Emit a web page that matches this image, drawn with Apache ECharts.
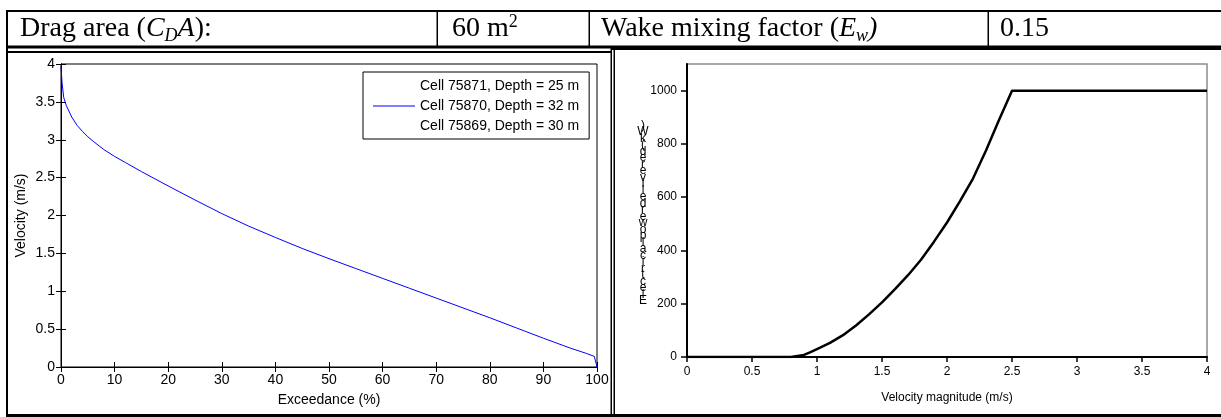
<!DOCTYPE html>
<html><head><meta charset="utf-8">
<script src="https://cdn.jsdelivr.net/npm/echarts@6/dist/echarts.min.js"></script>
<style>html,body{margin:0;padding:0;background:#fff;overflow:hidden}#c{width:1221px;height:417px}</style>
</head><body><div id="c"></div>
<script>
// ---- data ----
const exceedance = [0, 0.2, 0.5, 1, 2, 3, 4, 5, 6, 8, 10, 12, 15, 20, 25, 30, 35, 40, 45, 50, 55, 60, 65, 70, 75, 80, 85, 90, 95, 98, 99.5, 99.8, 100];
const velocity   = [3.97, 3.75, 3.56, 3.45, 3.3, 3.19, 3.11, 3.04, 2.98, 2.87, 2.78, 2.70, 2.58, 2.39, 2.205, 2.025, 1.86, 1.71, 1.565, 1.43, 1.30, 1.17, 1.04, 0.91, 0.78, 0.65, 0.515, 0.38, 0.25, 0.18, 0.14, 0.12, 0];
const speedMag   = [0, 0.8, 0.9, 0.95, 1.0, 1.1, 1.2, 1.3, 1.4, 1.5, 1.6, 1.7, 1.8, 1.9, 2.0, 2.1, 2.2, 2.3, 2.4, 2.5, 4.0];
const powerKW    = [0, 0, 8, 18, 30, 53, 82, 118, 160, 205, 255, 307, 365, 433, 505, 585, 670, 775, 890, 1000, 1000];
const legendNames = ['Cell 75871, Depth = 25 m', 'Cell 75870, Depth = 32 m', 'Cell 75869, Depth = 30 m'];
const exceedTicks = [0, 10, 20, 30, 40, 50, 60, 70, 80, 90, 100];
const velTicks    = [0, 0.5, 1, 1.5, 2, 2.5, 3, 3.5, 4];
const magTicks    = [0, 0.5, 1, 1.5, 2, 2.5, 3, 3.5, 4];
const powerTicks  = [0, 200, 400, 600, 800, 1000];
const powerTitle  = 'Electrical power delivered (kW)';

const SANS = "'Liberation Sans', Arial, sans-serif";
const SERIF = "'Liberation Serif', 'Times New Roman', serif";

const chart = echarts.init(document.getElementById('c'), null, {renderer: 'canvas'});

function matAxis(extra) {
  return Object.assign({
    type: 'value', gridIndex: 0,
    axisLine: {show: true, lineStyle: {color: '#000', width: 1}},
    axisTick: {show: true, inside: true, length: 5, lineStyle: {color: '#000', width: 1}},
    splitLine: {show: false},
    axisLabel: {color: '#000', fontSize: 14, fontFamily: SANS, margin: 6},
    nameTextStyle: {color: '#000', fontSize: 14, fontFamily: SANS}
  }, extra);
}

const pair = (xs, ys) => xs.map((x, i) => [x, ys[i]]);
const plain = v => String(v);

function rect(x, y, w, h, fill) {
  return {type: 'rect', silent: true, z: 100, shape: {x, y, width: w, height: h}, style: {fill: fill || '#000'}};
}

const richMain = {fontFamily: SERIF, fontSize: 28, lineHeight: 32, color: '#000'};
const rich = {
  n: richMain,
  i: Object.assign({}, richMain, {fontStyle: 'italic'}),
  s: {fontFamily: SERIF, fontSize: 18, lineHeight: 14, fontStyle: 'italic', verticalAlign: 'bottom', color: '#000'},
  p: {fontFamily: SERIF, fontSize: 18, lineHeight: 14, verticalAlign: 'top', color: '#000'}
};
function headText(x, txt) {
  return {type: 'text', silent: true, z: 100, x, y: 29,
    style: {text: txt, rich, verticalAlign: 'middle', align: 'left'}};
}

const stacked = powerTitle.split('').reverse().filter(c => c !== ' ').join('\n');

const option = {
  animation: false,
  backgroundColor: '#fff',
  grid: [
    {left: 61, top: 64, width: 536, height: 303, show: false},
    {left: 687, top: 64, width: 520, height: 293, show: true, borderColor: '#8c8c8c', borderWidth: 1.5, backgroundColor: 'transparent'}
  ],
  legend: {
    data: legendNames, orient: 'vertical', left: 363, top: 72,
    icon: 'rect', itemWidth: 42, itemHeight: 1, itemGap: 6,
    padding: [7, 10, 6, 10], borderColor: '#000', borderWidth: 1, backgroundColor: '#fff',
    selectedMode: false,
    textStyle: {color: '#000', fontSize: 14, fontFamily: SANS}
  },
  xAxis: [
    matAxis({min: 0, max: 100, interval: 10, position: 'bottom',
      axisLabel: {color: '#000', fontSize: 14, fontFamily: SANS, margin: 6, customValues: exceedTicks},
      axisTick: {show: true, inside: true, length: 5, lineStyle: {color: '#000'}, customValues: exceedTicks},
      name: 'Exceedance (%)', nameLocation: 'middle', nameGap: 26}),
    matAxis({min: 0, max: 100, interval: 10, position: 'top', axisLabel: {show: false},
      axisTick: {show: true, inside: true, length: 5, lineStyle: {color: '#000'}, customValues: exceedTicks}}),
    {type: 'value', gridIndex: 1, min: 0, max: 4, interval: 0.5, position: 'bottom',
      axisLine: {show: true, onZero: false, lineStyle: {color: '#000', width: 2}},
      axisTick: {show: true, inside: false, length: 5, lineStyle: {color: '#000', width: 1.5}, customValues: magTicks},
      axisLabel: {color: '#000', fontSize: 12, fontFamily: SANS, margin: 9, customValues: magTicks, formatter: plain},
      splitLine: {show: false},
      name: 'Velocity magnitude (m/s)', nameLocation: 'middle', nameGap: 35,
      nameTextStyle: {color: '#000', fontSize: 12, fontFamily: SANS}}
  ],
  yAxis: [
    matAxis({min: 0, max: 4, interval: 0.5, position: 'left',
      axisLabel: {color: '#000', fontSize: 14, fontFamily: SANS, margin: 6, customValues: velTicks},
      axisTick: {show: true, inside: true, length: 5, lineStyle: {color: '#000'}, customValues: velTicks},
      name: 'Velocity (m/s)', nameLocation: 'middle', nameGap: 33}),
    matAxis({min: 0, max: 4, interval: 0.5, position: 'right', axisLabel: {show: false},
      axisTick: {show: true, inside: true, length: 5, lineStyle: {color: '#000'}, customValues: velTicks}}),
    {type: 'value', gridIndex: 1, min: 0, max: 1100, interval: 100, position: 'left',
      axisLine: {show: true, onZero: false, lineStyle: {color: '#000', width: 2}},
      axisTick: {show: true, inside: false, length: 6, lineStyle: {color: '#000', width: 1.5}, customValues: powerTicks},
      axisLabel: {color: '#000', fontSize: 12, fontFamily: SANS, margin: 10, customValues: powerTicks, formatter: plain},
      splitLine: {show: false}}
  ],
  series: [
    {name: legendNames[0], type: 'line', xAxisIndex: 0, yAxisIndex: 0, data: [], color: 'rgba(0,0,0,0)', showSymbol: false},
    {name: legendNames[1], type: 'line', xAxisIndex: 0, yAxisIndex: 0, data: pair(exceedance, velocity),
      color: '#0000ff', showSymbol: false, symbol: 'none', lineStyle: {width: 1, color: '#0000ff'}},
    {name: legendNames[2], type: 'line', xAxisIndex: 0, yAxisIndex: 0, data: [], color: 'rgba(0,0,0,0)', showSymbol: false},
    {name: 'power', type: 'line', xAxisIndex: 2, yAxisIndex: 2, data: pair(speedMag, powerKW),
      color: '#000', showSymbol: false, symbol: 'none', lineStyle: {width: 2.5, color: '#000'}, z: 5}
  ],
  graphic: [
    {type: 'rect', silent: true, z: 1, shape: {x: 61, y: 64, width: 536, height: 303}, style: {fill: 'none', stroke: '#000', lineWidth: 1}},
    rect(6, 10, 1215, 2),
    rect(6, 45.5, 606, 3),
    rect(612, 45.5, 609, 4.5),
    rect(6, 10, 2, 407),
    rect(436.5, 12, 1.5, 34),
    rect(588.5, 12, 1.5, 34),
    rect(987.5, 12, 1.5, 34),
    rect(6, 51, 606, 2),
    rect(610.5, 48, 1.5, 369),
    rect(613.5, 48, 1.5, 369),
    rect(6, 414, 1215, 3),
    headText(20, '{n|Drag area (}{i|C}{s|D}{i|A}{n|):}'),
    headText(452, '{n|60 m}{p|2}'),
    headText(601, '{n|Wake mixing factor (}{i|E}{s|w}{i|)}'),
    headText(1000, '{n|0.15}'),
    {type: 'text', silent: true, z: 100, x: 643, y: 122,
      style: {text: stacked, fontFamily: SANS, fontSize: 12, lineHeight: 6.5, align: 'center', verticalAlign: 'top', fill: '#000'}}
  ]
};
chart.setOption(option);
</script>
</body></html>
